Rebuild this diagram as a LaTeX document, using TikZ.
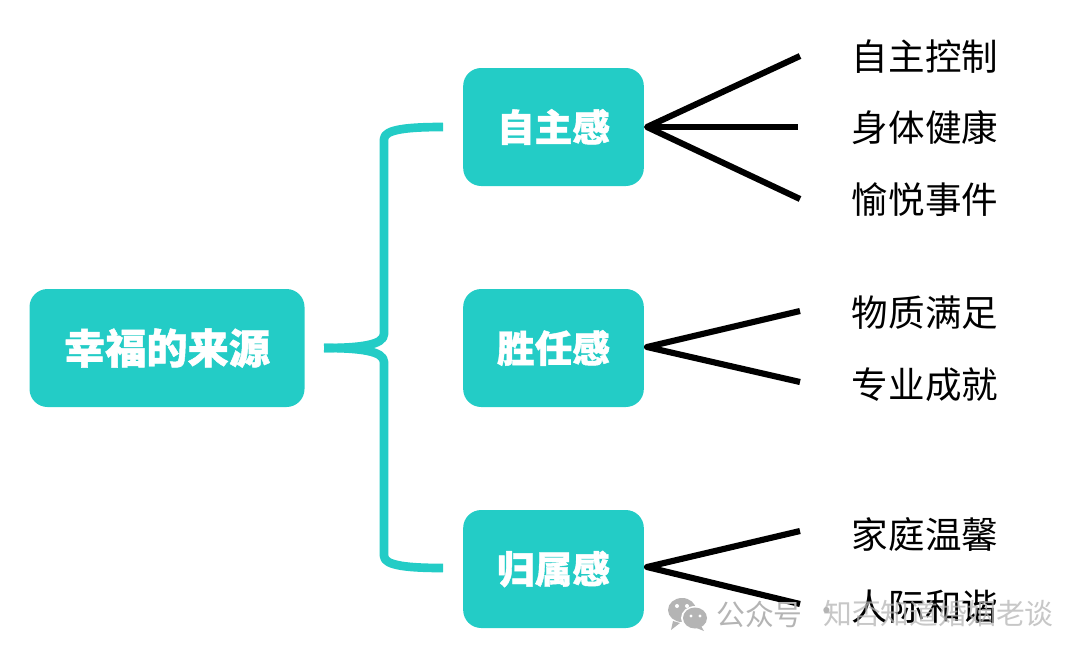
\documentclass[tikz,border=0pt]{standalone}
\usepackage{fontspec}
\setmainfont{Noto Sans CJK SC}[BoldFeatures={FakeBold=1.1}]
\definecolor{teal1}{HTML}{23CCC6}
\definecolor{wm}{HTML}{B4B4B4}
\tikzset{
  rootbox/.style={fill=teal1,rounded corners=13.5pt,minimum width=206.25pt,minimum height=88.5pt,inner sep=0pt,text=white,font=\fontsize{30.9pt}{32pt}\selectfont\bfseries},
  catbox/.style={fill=teal1,rounded corners=13.5pt,minimum width=135.5pt,minimum height=88.5pt,inner sep=0pt,text=white,font=\fontsize{28.2pt}{30pt}\selectfont\bfseries},
  leaf/.style={inner sep=0pt,text=black,font=\fontsize{27.4pt}{30pt}\selectfont},
  brace/.style={draw=teal1,line width=6.5pt,line join=round},
  spoke/.style={draw=black,line width=4.6pt,line join=round},
  wmtext/.style={inner sep=0pt,text=wm,font=\fontsize{21.6pt}{23pt}\selectfont}
}
\begin{document}
\begin{tikzpicture}[x=0.75pt,y=-0.75pt]
\useasboundingbox (0,0) rectangle (1080,657);
\node[rootbox] (root) at (167,348) {幸福的来源};
\node[catbox] (a) at (553.5,127) {自主感};
\node[catbox] (b) at (553.5,348) {胜任感};
\node[catbox] (c) at (553.5,569) {归属感};
\node[leaf] (a1) at (925,57) {自主控制};
\node[leaf] (a2) at (925,128) {身体健康};
\node[leaf] (a3) at (925,200) {愉悦事件};
\node[leaf] (b1) at (925,313) {物质满足};
\node[leaf] (b2) at (925,385) {专业成就};
\node[leaf] (c1) at (925,534) {家庭温馨};
\node[leaf] (c2) at (925,607) {人际和谐};
\coordinate (tip) at (324,348);
\coordinate (ta) at (443,127);
\coordinate (tc) at (443,568);
\draw[brace] (ta) .. controls (410,127) and (384,129) .. (384,139)
  -- (384,334) .. controls (384,345) and (360,348) .. (tip);
\draw[brace] (tc) .. controls (410,568) and (384,566) .. (384,556)
  -- (384,362) .. controls (384,351) and (360,348) .. (tip);
\coordinate (ha) at (647,127);
\coordinate (hb) at (647,347);
\coordinate (hc) at (647,567);
\coordinate (ea1) at (800,56);
\coordinate (ea2) at (798,127);
\coordinate (ea3) at (800,199);
\coordinate (eb1) at (800,311);
\coordinate (eb2) at (800,382);
\coordinate (ec1) at (800,531);
\coordinate (ec2) at (800,604);
\draw[spoke] (ea1) -- (ha) -- (ea3);
\draw[spoke] (ha) -- (ea2);
\draw[spoke] (eb1) -- (hb) -- (eb2);
\draw[spoke] (ec1) -- (hc) -- (ec2);
% watermark
\fill[wm] (682,610) ellipse (14 and 12);
\fill[wm] (673,621) -- (671,630) -- (680,623) -- cycle;
\fill[white] (695,618) ellipse (14 and 12);
\fill[wm] (695,618) ellipse (12 and 10.5);
\fill[wm] (701,626) -- (704,631) -- (694,627) -- cycle;
\fill[white] (677,606) circle (2) (687,606) circle (2) (691,616) circle (1.6) (700,616) circle (1.6);
\node[wmtext,anchor=west] (wm1) at (716,614) {公众号};
\node[wmtext,anchor=west] (wm3) at (812,614) {·};
\node[wmtext,anchor=west,opacity=.75] (wm2) at (823,614) {知否知道婚姻老谈};
\end{tikzpicture}
\end{document}
